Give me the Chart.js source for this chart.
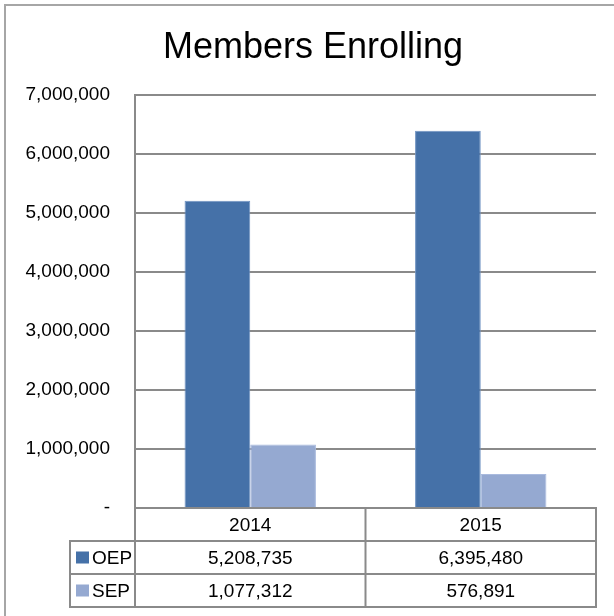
<!DOCTYPE html>
<html>
<head>
<meta charset="utf-8">
<script src="https://cdn.jsdelivr.net/npm/chart.js@4.4.0/dist/chart.umd.min.js"></script>
<style>
  html, body { margin: 0; padding: 0; background: #fff; }
  #wrap { position: relative; width: 614px; height: 616px; }
</style>
</head>
<body>
<div id="wrap"><canvas id="enrollChart" width="614" height="616"></canvas></div>
<script>
let years = ['2014', '2015'];
let seriesNames = ['OEP', 'SEP'];
let oepValues = [5208735, 6395480];
let sepValues = [1077312, 576891];
let yTicks = [0, 1000000, 2000000, 3000000, 4000000, 5000000, 6000000, 7000000];

let oepColor = '#4571a8';
let sepColor = '#95a9d1';
let lineColor = '#8a8a8a';
let fontName = '"Liberation Sans", Arial, sans-serif';

function fmt(v) {
  return v === 0 ? '-' : v.toLocaleString('en-US');
}

// frame + data table under the plot
let tablePlugin = {
  id: 'dataTable',
  beforeDraw(chart) {
    let ctx = chart.ctx;
    ctx.save();
    ctx.strokeStyle = '#a6a6a6';
    ctx.lineWidth = 2;
    ctx.beginPath();
    ctx.moveTo(5, 700);
    ctx.lineTo(5, 5);
    ctx.lineTo(700, 5);
    ctx.stroke();
    ctx.restore();
  },
  afterDraw(chart) {
    let ctx = chart.ctx;
    let area = chart.chartArea;
    let xs = chart.scales.x;
    let rowH = 33;
    let top = area.bottom;
    let labelLeft = 70;
    let colW = (area.right - area.left) / years.length;
    let rows = [oepValues, sepValues];
    let colors = [oepColor, sepColor];
    ctx.save();
    ctx.strokeStyle = lineColor;
    ctx.lineWidth = 2;
    // header row
    ctx.strokeRect(area.left, top, area.right - area.left, rowH);
    // data rows
    ctx.strokeRect(labelLeft, top + rowH, area.right - labelLeft, rowH * 2);
    ctx.beginPath();
    ctx.moveTo(labelLeft, top + rowH * 2);
    ctx.lineTo(area.right, top + rowH * 2);
    for (let i = 0; i <= years.length; i++) {
      let x = area.left + colW * i;
      ctx.moveTo(x, top);
      ctx.lineTo(x, top + rowH * 3);
    }
    ctx.stroke();

    ctx.fillStyle = '#000';
    ctx.font = '19px ' + fontName;
    ctx.textAlign = 'center';
    ctx.textBaseline = 'middle';
    years.forEach((y, i) => {
      let cx = xs.getPixelForValue(i);
      ctx.fillText(y, cx, top + rowH / 2 + 1);
      rows.forEach((r, j) => {
        ctx.fillText(fmt(r[i]), cx, top + rowH * (j + 1.5) + 1);
      });
    });
    ctx.textAlign = 'left';
    seriesNames.forEach((n, j) => {
      let cy = top + rowH * (j + 1.5);
      ctx.fillStyle = colors[j];
      ctx.fillRect(labelLeft + 6, cy - 6, 13, 12);
      ctx.fillStyle = '#000';
      ctx.fillText(n, labelLeft + 22, cy + 1);
    });
    ctx.restore();
  }
};

new Chart(document.getElementById('enrollChart').getContext('2d'), {
  type: 'bar',
  data: {
    labels: years,
    datasets: [{
      label: seriesNames[0],
      data: oepValues,
      yAxisID: 'y',
      backgroundColor: oepColor,
      borderColor: '#6f93c2',
      borderWidth: 1,
      categoryPercentage: 0.57,
      barPercentage: 1
    }, {
      label: seriesNames[1],
      data: sepValues,
      yAxisID: 'y',
      backgroundColor: sepColor,
      borderColor: '#a9bade',
      borderWidth: 1,
      categoryPercentage: 0.57,
      barPercentage: 1
    }]
  },
  options: {
    responsive: false,
    animation: false,
    layout: { padding: { left: 12, right: 0, top: 0, bottom: 108 } },
    plugins: {
      legend: { display: false },
      tooltip: { enabled: false },
      title: {
        display: true,
        text: 'Members Enrolling',
        color: '#000',
        font: { family: fontName, size: 36, weight: 'normal' },
        padding: { top: 26, bottom: 26 }
      }
    },
    scales: {
      x: {
        display: false
      },
      y: {
        min: 0,
        max: 7000000,
        afterBuildTicks(scale) {
          scale.ticks = yTicks.map(v => ({ value: v }));
        },
        afterFit(scale) {
          scale.width = 123;
        },
        grid: { color: lineColor, lineWidth: 2, drawTicks: false },
        border: { display: true, color: lineColor, width: 2 },
        ticks: {
          padding: 25,
          color: '#000',
          font: { family: fontName, size: 19 },
          callback: v => fmt(v)
        }
      },
      // empty right margin, so the title centres like the original
      yRight: {
        position: 'right',
        grid: { display: false },
        border: { display: false },
        ticks: { display: false },
        afterFit(scale) {
          scale.width = 18;
        }
      }
    }
  },
  plugins: [tablePlugin]
});
</script>
</body>
</html>
